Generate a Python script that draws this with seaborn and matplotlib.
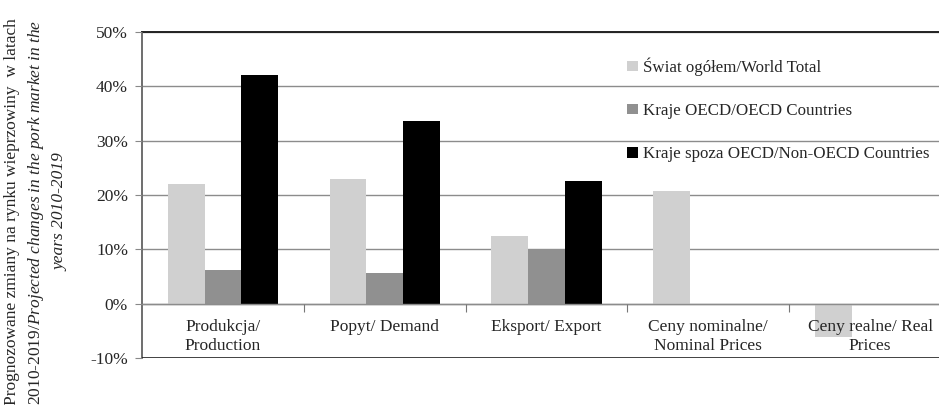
import matplotlib
matplotlib.use('Agg')
import matplotlib.pyplot as plt
from matplotlib.ticker import FuncFormatter, FixedLocator
import seaborn as sns
import pandas as pd
import numpy as np

# data (percent change 2010-2019)
categories = ['Produkcja/\nProduction', 'Popyt/ Demand', 'Eksport/ Export',
              'Ceny nominalne/\nNominal Prices', 'Ceny realne/ Real\nPrices']
series_names = ['Świat ogółem/World Total', 'Kraje OECD/OECD Countries',
                'Kraje spoza OECD/Non-OECD Countries']
world_total = [22.0, 22.9, 12.5, 20.8, -6.2]
oecd = [6.2, 5.6, 10.1, np.nan, np.nan]
non_oecd = [42.0, 33.7, 22.5, np.nan, np.nan]
yticks = [-10, 0, 10, 20, 30, 40, 50]
colors = ['#d0d0d0', '#909090', '#000000']

df = pd.DataFrame({
    'category': categories * 3,
    'series': np.repeat(series_names, len(categories)),
    'value': world_total + oecd + non_oecd,
})

sns.set_style('white')
plt.rcParams['font.family'] = ['Liberation Serif', 'DejaVu Serif']
plt.rcParams['mathtext.fontset'] = 'custom'
plt.rcParams['mathtext.rm'] = 'Liberation Serif'
plt.rcParams['mathtext.it'] = 'Liberation Serif:italic'

fs = 12.5
W, H = 939, 405
fig = plt.figure(figsize=(W / 100, H / 100), dpi=100)
# plot area runs past the right edge of the picture, as in the reference
ax = fig.add_axes([142 / W, 1 - 358 / H, (951 - 142) / W, (358 - 32) / H])

sns.barplot(data=df, x='category', y='value', hue='series', order=categories,
            hue_order=series_names, palette=colors, width=0.68, saturation=1,
            edgecolor='none', linewidth=0, ax=ax, zorder=1)

ax.set_ylim(-10, 50)
ax.set_xlim(-0.5, len(categories) - 0.5)
ax.yaxis.set_major_locator(FixedLocator(yticks))
ax.yaxis.set_major_formatter(FuncFormatter(lambda v, p: f'{v:.0f}%'))
# gridlines behind the bars, axis (labels) in front
for v in yticks:
    ax.axhline(v, color='#8c8c8c', linewidth=1.0, zorder=0.5)
ax.set_axisbelow(False)
ax.tick_params(axis='y', which='major', direction='out', length=5, width=0.8,
               color='#888888', labelsize=fs, pad=5, left=True)

# horizontal axis crosses at zero
ax.spines['bottom'].set_position(('data', 0))
ax.spines['bottom'].set_color('#8c8c8c')
ax.spines['bottom'].set_linewidth(1.0)
ax.spines['top'].set_color('#222222')
ax.spines['top'].set_linewidth(1.4)
ax.spines['left'].set_color('#555555')
ax.spines['left'].set_linewidth(1.2)
ax.spines['right'].set_visible(False)
ax.axhline(-10, color='#111111', linewidth=1.8, zorder=5)
ax.set_xticks(np.arange(len(categories)))
ax.set_xticklabels(categories, fontsize=fs, linespacing=1.25)
ax.set_xticks(np.arange(0.5, len(categories) - 0.5, 1), minor=True)
ax.tick_params(axis='x', which='major', length=0, pad=11)
ax.tick_params(axis='x', which='minor', direction='out', length=6, width=0.8,
               color='#777777', bottom=True)
ax.set_xlabel('')
ax.set_ylabel('')

leg = ax.legend(loc='upper left', bbox_to_anchor=(619 / W, 1 - 49 / H),
                bbox_transform=fig.transFigure, frameon=False, fontsize=12.2,
                labelspacing=1.6, handlelength=0.6, handleheight=0.6,
                handletextpad=0.3, borderpad=0)

# y-axis title in three lines, mixed upright and italic
cy = 1 - 212 / H
fig.text(12 / W, cy, 'Prognozowane zmiany na rynku wieprzowiny  w latach',
         rotation=90, ha='center', va='center', fontsize=fs)
fig.text(36 / W, cy,
         r'2010-2019/$\mathit{Projected\ changes\ in\ the\ pork\ market\ in\ the}$',
         rotation=90, ha='center', va='center', fontsize=fs)
fig.text(60 / W, cy, 'years 2010-2019', style='italic',
         rotation=90, ha='center', va='center', fontsize=fs)

fig.savefig('out.png', dpi=100)
